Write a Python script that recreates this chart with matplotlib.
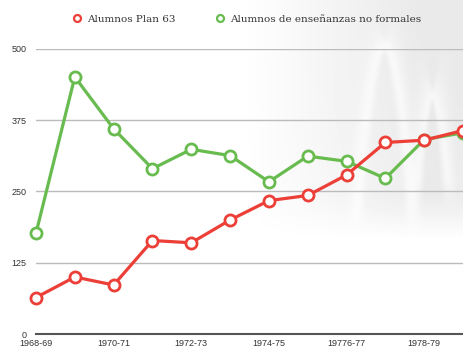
import numpy as np
import matplotlib
matplotlib.use("Agg")
import matplotlib.pyplot as plt
from matplotlib.lines import Line2D

# school years, one point per year
years = ["1968-69", "1969-70", "1970-71", "1971-72", "1972-73", "1973-74",
         "1974-75", "1975-76", "19776-77", "1977-78", "1978-79", "1979-80"]
plan63 = [64, 100, 86, 164, 160, 200, 234, 243, 279, 336, 340, 357]
no_formales = [177, 451, 360, 290, 324, 313, 267, 312, 303, 273, 341, 353]
y_ticks = [0, 125, 250, 375, 500]

RED = "#ec3f37"
GREEN = "#68bc4f"
TEXT = "#333333"

W, H = 464, 347
fig = plt.figure(figsize=(W / 100, H / 100), dpi=100)


def backdrop():
    # faint grey picture behind the chart, top right
    yy, xx = np.mgrid[0:H, 0:W].astype(float)
    shade = np.clip((xx - 240) / 180, 0, 1) * np.clip((240 - yy) / 45, 0, 1)
    shade *= 0.085
    # two light arches
    for cx, top, half, base in [(384, 45, 30, 240), (432, 95, 18, 210)]:
        t = np.clip((xx - cx) / half, -1.4, 1.4)
        curve = top + (base - top) * t ** 2
        d = np.abs(yy - curve) / np.sqrt(1 + (2 * (base - top) * t / half) ** 2)
        arch = np.exp(-(d / 7) ** 2) * np.clip((base - yy) / 30, 0, 1)
        shade = shade * (1 - 0.6 * arch)
    img = 1 - shade
    bg = fig.add_axes([0, 0, 1, 1], zorder=-1)
    bg.imshow(img, cmap="gray", vmin=0, vmax=1, aspect="auto",
              interpolation="bilinear")
    bg.axis("off")


backdrop()

ax = fig.add_axes([36 / W, 13 / H, (W - 36) / W, 285 / H])
ax.patch.set_alpha(0)

x = np.arange(len(years))
style = dict(lw=2.3, marker="o", ms=8, mew=2.0, mfc="white", clip_on=False)
ax.plot(x, no_formales, color=GREEN, zorder=3, **style)
ax.plot(x, plan63, color=RED, zorder=4, **style)

ax.set_xlim(0, 11 * 428 / 427)
ax.set_ylim(0, 500)

ax.set_yticks(y_ticks)
ax.set_yticklabels([str(v) for v in y_ticks], fontsize=6.5, color=TEXT,
                   fontfamily="Liberation Sans")
ax.set_xticks(x[::2])
ax.set_xticklabels(years[::2], fontsize=6.5, color=TEXT,
                   fontfamily="Liberation Sans")
ax.tick_params(axis="y", length=0, pad=7)
ax.tick_params(axis="x", length=0, pad=3.5)

ax.grid(axis="y", color="#bbbbbb", lw=1)
ax.set_axisbelow(True)
for side in ["top", "right", "left"]:
    ax.spines[side].set_visible(False)
ax.spines["bottom"].set_color("#555555")
ax.spines["bottom"].set_linewidth(1.5)

handles = [
    Line2D([], [], ls="none", marker="o", ms=5, mew=1.6, mfc="white", color=RED),
    Line2D([], [], ls="none", marker="o", ms=5, mew=1.6, mfc="white", color=GREEN),
]
fig.legend(handles, ["Alumnos Plan 63", "Alumnos de enseñanzas no formales"],
           loc="center", bbox_to_anchor=(247 / W, 1 - 19 / H), ncol=2,
           frameon=False, handlelength=0.8, handletextpad=0.6,
           columnspacing=3.8,
           prop={"family": "DejaVu Serif", "size": 7.5}, labelcolor=TEXT)

fig.savefig("out.png", dpi=100)
